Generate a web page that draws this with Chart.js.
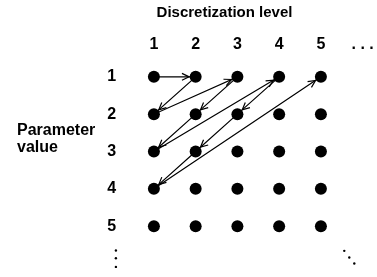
<!DOCTYPE html>
<html>
<head>
<meta charset="utf-8">
<script src="https://cdn.jsdelivr.net/npm/chart.js@4/dist/chart.umd.min.js"></script>
<style>
  html, body { margin: 0; padding: 0; background: #fff; }
  #wrap { position: relative; width: 377px; height: 277px; }
</style>
</head>
<body>
<div id="wrap"><canvas id="grid"></canvas></div>
<script>
// Column ticks (discretization level) and row ticks (parameter value)
const levelLabels = ['1', '2', '3', '4', '5', '. . .'];
const levelTicks = [1, 2, 3, 4, 5, 6];
const valueLabels = ['1', '2', '3', '4', '5'];
const valueTicks = [1, 2, 3, 4, 5];

// Grid of dots
const gridLevels = [1, 2, 3, 4, 5];
const gridValues = [1, 2, 3, 4, 5];

// Enumeration path (level, value) in visiting order
const pathLevels = [1, 2, 1, 3, 2, 1, 4, 3, 2, 1, 5];
const pathValues = [1, 1, 2, 1, 2, 3, 1, 2, 3, 4, 1];

// Small ellipsis dots (below row labels, and bottom right corner)
const vDotsX = [0.09, 0.09, 0.09];
const vDotsY = [5.65, 5.86, 6.09];
const dDotsX = [5.56, 5.68, 5.80];
const dDotsY = [5.66, 5.84, 6.00];

const FONT = '"Liberation Sans", Arial, sans-serif';

const gridPoints = [];
gridValues.forEach(v => {
    gridLevels.forEach(l => gridPoints.push({ x: l, y: v }));
});
const pathPoints = pathLevels.map((l, i) => ({ x: l, y: pathValues[i] }));

// Arrow heads at the end of each path segment
const arrowHeads = {
    id: 'arrowHeads',
    afterDatasetsDraw(chart) {
        const pts = chart.getDatasetMeta(1).data;
        const ctx = chart.ctx;
        ctx.save();
        ctx.strokeStyle = '#000';
        ctx.lineWidth = 1.2;
        for (let i = 1; i < pts.length; i++) {
            const a = pts[i - 1], b = pts[i];
            const ang = Math.atan2(b.y - a.y, b.x - a.x);
            const tx = b.x - Math.cos(ang) * 6.5;
            const ty = b.y - Math.sin(ang) * 6.5;
            const len = 8, spread = 0.45;
            ctx.beginPath();
            ctx.moveTo(tx - Math.cos(ang - spread) * len, ty - Math.sin(ang - spread) * len);
            ctx.lineTo(tx, ty);
            ctx.lineTo(tx - Math.cos(ang + spread) * len, ty - Math.sin(ang + spread) * len);
            ctx.stroke();
        }
        ctx.restore();
    }
};

// Ellipsis dots, placed through the scales (some fall outside the chart area)
const ellipsis = {
    id: 'ellipsis',
    afterDatasetsDraw(chart) {
        const xs = chart.scales.x, ys = chart.scales.y;
        const ctx = chart.ctx;
        ctx.save();
        ctx.fillStyle = '#000';
        const dot = (x, y) => {
            ctx.beginPath();
            ctx.arc(xs.getPixelForValue(x), ys.getPixelForValue(y), 1.2, 0, Math.PI * 2);
            ctx.fill();
        };
        vDotsX.forEach((x, i) => dot(x, vDotsY[i]));
        dDotsX.forEach((x, i) => dot(x, dDotsY[i]));
        ctx.restore();
    }
};

// Axis captions
const captions = {
    id: 'captions',
    afterDraw(chart) {
        const ctx = chart.ctx;
        ctx.save();
        ctx.fillStyle = '#000';
        ctx.textBaseline = 'alphabetic';
        ctx.font = 'bold 15px ' + FONT;
        ctx.textAlign = 'center';
        ctx.fillText('Discretization level', 224.5, 17);
        ctx.font = 'bold 16px ' + FONT;
        ctx.textAlign = 'left';
        ctx.fillText('Parameter', 17, 135);
        ctx.fillText('value', 17, 152);
        ctx.restore();
    }
};

new Chart(document.getElementById('grid'), {
    type: 'scatter',
    data: {
        datasets: [
            {
                label: 'grid',
                data: gridPoints,
                pointRadius: 6,
                pointBackgroundColor: '#000',
                pointBorderWidth: 0,
                order: 0
            },
            {
                label: 'path',
                data: pathPoints,
                showLine: true,
                borderColor: '#000',
                borderWidth: 1.2,
                pointRadius: 0,
                tension: 0,
                order: 1
            }
        ]
    },
    options: {
        responsive: true,
        maintainAspectRatio: false,
        animation: false,
        layout: { padding: { left: 0, top: 0, right: 4.6, bottom: 3.3 } },
        plugins: {
            legend: { display: false },
            tooltip: { enabled: false }
        },
        scales: {
            x: {
                type: 'linear',
                position: 'top',
                min: 0.6,
                max: 6.2,
                grid: { display: false, drawTicks: false },
                border: { display: false },
                afterBuildTicks: s => { s.ticks = levelTicks.map(v => ({ value: v })); },
                afterFit: s => {
                    s.height = 61.9;
                    s.paddingLeft = 0;
                    s.paddingRight = 0;
                },
                ticks: {
                    padding: 8,
                    color: '#000',
                    font: { family: FONT, size: 16, weight: 'bold' },
                    callback: v => levelLabels[levelTicks.indexOf(v)]
                }
            },
            y: {
                type: 'linear',
                reverse: true,
                min: 0.6,
                max: 6.2,
                grid: { display: false, drawTicks: false },
                border: { display: false },
                afterBuildTicks: s => { s.ticks = valueTicks.map(v => ({ value: v })); },
                afterFit: s => {
                    s.width = 137.2;
                    s.paddingTop = 0;
                    s.paddingBottom = 0;
                },
                ticks: {
                    padding: 21,
                    color: '#000',
                    font: { family: FONT, size: 16, weight: 'bold' },
                    callback: v => valueLabels[valueTicks.indexOf(v)]
                }
            }
        }
    },
    plugins: [arrowHeads, ellipsis, captions]
});
</script>
</body>
</html>
